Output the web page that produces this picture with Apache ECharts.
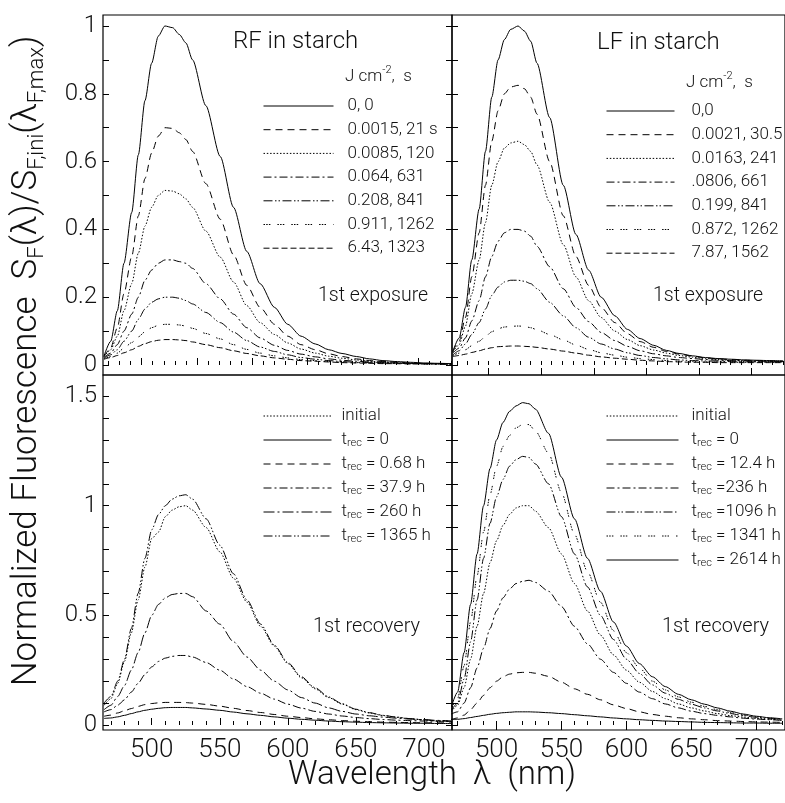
<!DOCTYPE html>
<html>
<head>
<meta charset="utf-8">
<script src="https://cdn.jsdelivr.net/npm/echarts@6.0.0/dist/echarts.min.js"></script>
<style>
html,body{margin:0;padding:0;background:#fff;}
#chart{width:785px;height:803px;}
</style>
</head>
<body>
<div id="chart"></div>
<script>
// ---------------- data ----------------
// wavelength grids (nm): exposure panels (top) and recovery panels (bottom)
const wavelengthTop = [466,472,478,484,491,497,503,509,515,521,528,534,540,546,558,571,583,595,607,620,632,644,657,669,681,694,706,718,731,743,755,767,780];
const wavelengthBottom = [465,470,475,480,485,490,495,500,505,510,515,520,525,530,540,550,560,570,580,590,600,610,620,630,640,650,660,670,680,690,700,710,720];

// RF in starch, 1st exposure
const rfExposureLabels = ['0, 0','0.0015, 21 s','0.0085, 120','0.064, 631','0.208, 841','0.911, 1262','6.43, 1323'];
const rfExp0 = [0.027,0.07,0.16,0.30,0.45,0.62,0.78,0.89,0.97,1.00,0.995,0.975,0.95,0.90,0.765,0.615,0.465,0.335,0.24,0.17,0.12,0.085,0.062,0.045,0.034,0.025,0.018,0.013,0.010,0.008,0.006,0.005,0.004];
const rfExp1 = [0.025,0.05,0.11,0.21,0.32,0.44,0.55,0.625,0.675,0.70,0.698,0.685,0.665,0.63,0.535,0.43,0.325,0.235,0.17,0.12,0.085,0.06,0.045,0.033,0.025,0.018,0.013,0.010,0.008,0.006,0.005,0.004,0.003];
const rfExp2 = [0.024,0.045,0.085,0.16,0.24,0.33,0.41,0.465,0.50,0.515,0.513,0.505,0.49,0.465,0.395,0.318,0.245,0.175,0.125,0.09,0.065,0.047,0.035,0.026,0.02,0.015,0.011,0.009,0.007,0.005,0.004,0.004,0.003];
const rfExp3 = [0.022,0.035,0.06,0.10,0.15,0.20,0.25,0.28,0.30,0.31,0.31,0.305,0.30,0.285,0.24,0.195,0.15,0.11,0.08,0.058,0.043,0.032,0.024,0.018,0.014,0.011,0.009,0.007,0.006,0.005,0.004,0.003,0.003];
const rfExp4 = [0.02,0.03,0.045,0.07,0.10,0.135,0.165,0.185,0.195,0.20,0.20,0.197,0.19,0.18,0.155,0.125,0.097,0.072,0.053,0.04,0.03,0.022,0.017,0.013,0.01,0.008,0.007,0.006,0.005,0.004,0.004,0.003,0.003];
const rfExp5 = [0.018,0.025,0.035,0.05,0.066,0.083,0.098,0.11,0.117,0.12,0.12,0.118,0.115,0.108,0.093,0.077,0.06,0.046,0.035,0.027,0.021,0.016,0.013,0.01,0.008,0.007,0.006,0.005,0.004,0.004,0.003,0.003,0.003];
const rfExp6 = [0.017,0.022,0.028,0.036,0.045,0.055,0.063,0.069,0.073,0.075,0.075,0.074,0.072,0.068,0.06,0.051,0.042,0.034,0.027,0.021,0.017,0.013,0.011,0.009,0.007,0.006,0.005,0.004,0.004,0.003,0.003,0.003,0.002];

// LF in starch, 1st exposure
const lfExposureLabels = ['0,0','0.0021, 30.5','0.0163, 241','.0806, 661','0.199, 841','0.872, 1262','7.87, 1562'];
const lfExp0 = [0.04,0.08,0.17,0.31,0.46,0.63,0.79,0.90,0.96,0.99,1.00,0.985,0.955,0.89,0.73,0.53,0.385,0.28,0.20,0.145,0.105,0.078,0.058,0.043,0.034,0.027,0.022,0.019,0.017,0.015,0.014,0.013,0.012];
const lfExp1 = [0.04,0.07,0.14,0.26,0.39,0.53,0.66,0.75,0.80,0.82,0.825,0.815,0.79,0.74,0.60,0.44,0.32,0.235,0.17,0.125,0.092,0.069,0.052,0.04,0.032,0.026,0.021,0.018,0.016,0.014,0.013,0.012,0.011];
const lfExp2 = [0.038,0.06,0.115,0.21,0.31,0.42,0.53,0.60,0.64,0.655,0.66,0.65,0.63,0.59,0.48,0.355,0.26,0.19,0.14,0.10,0.075,0.057,0.044,0.035,0.028,0.023,0.019,0.016,0.014,0.013,0.012,0.011,0.011];
const lfExp3 = [0.035,0.05,0.08,0.13,0.19,0.26,0.32,0.365,0.39,0.40,0.40,0.395,0.38,0.35,0.29,0.225,0.17,0.128,0.096,0.072,0.055,0.042,0.033,0.027,0.022,0.019,0.016,0.014,0.013,0.012,0.011,0.011,0.01];
const lfExp4 = [0.03,0.042,0.062,0.09,0.125,0.165,0.205,0.23,0.245,0.25,0.25,0.247,0.24,0.225,0.185,0.145,0.11,0.082,0.062,0.047,0.036,0.028,0.022,0.018,0.015,0.013,0.012,0.011,0.01,0.01,0.009,0.009,0.009];
const lfExp5 = [0.028,0.035,0.045,0.057,0.07,0.084,0.098,0.107,0.112,0.114,0.115,0.114,0.11,0.104,0.09,0.074,0.059,0.046,0.036,0.029,0.023,0.019,0.016,0.013,0.011,0.01,0.009,0.009,0.008,0.008,0.008,0.008,0.008];
const lfExp6 = [0.025,0.028,0.032,0.037,0.042,0.047,0.051,0.054,0.055,0.056,0.056,0.055,0.054,0.052,0.047,0.041,0.035,0.029,0.024,0.02,0.017,0.014,0.012,0.01,0.009,0.008,0.008,0.007,0.007,0.007,0.007,0.007,0.007];

// RF in starch, 1st recovery
const rfRecoveryLabels = ['initial','t_rec = 0','t_rec = 0.68 h','t_rec = 37.9 h','t_rec = 260 h','t_rec = 1365 h'];
const rfRecInitial = [0.09,0.12,0.19,0.29,0.42,0.57,0.72,0.85,0.88,0.95,0.98,0.995,1.0,0.98,0.90,0.79,0.67,0.56,0.45,0.36,0.28,0.215,0.165,0.125,0.095,0.07,0.055,0.043,0.035,0.028,0.023,0.018,0.015];
const rfRec0 = [0.03,0.032,0.037,0.044,0.052,0.06,0.067,0.072,0.076,0.079,0.08,0.08,0.08,0.078,0.073,0.067,0.059,0.051,0.044,0.037,0.031,0.026,0.022,0.018,0.015,0.013,0.011,0.01,0.009,0.008,0.008,0.007,0.007];
const rfRec068 = [0.04,0.045,0.055,0.065,0.075,0.085,0.093,0.098,0.101,0.103,0.103,0.103,0.102,0.10,0.094,0.086,0.076,0.066,0.057,0.048,0.04,0.034,0.028,0.024,0.02,0.017,0.015,0.013,0.012,0.011,0.01,0.01,0.009];
const rfRec379 = [0.06,0.07,0.09,0.115,0.15,0.19,0.23,0.265,0.29,0.305,0.313,0.317,0.317,0.31,0.285,0.25,0.21,0.175,0.145,0.118,0.095,0.077,0.062,0.05,0.041,0.034,0.029,0.025,0.022,0.02,0.018,0.017,0.016];
const rfRec260 = [0.07,0.09,0.13,0.18,0.25,0.33,0.42,0.50,0.55,0.58,0.595,0.60,0.60,0.585,0.52,0.46,0.38,0.31,0.25,0.20,0.16,0.125,0.10,0.078,0.062,0.05,0.042,0.036,0.031,0.027,0.024,0.021,0.019];
const rfRec1365 = [0.10,0.13,0.20,0.30,0.44,0.60,0.76,0.89,0.96,1.0,1.03,1.045,1.05,1.03,0.94,0.82,0.69,0.57,0.46,0.365,0.285,0.22,0.17,0.128,0.097,0.072,0.056,0.044,0.036,0.029,0.024,0.019,0.016];

// LF in starch, 1st recovery
const lfRecoveryLabels = ['initial','t_rec = 0','t_rec = 12.4 h','t_rec =236 h','t_rec =1096 h','t_rec = 1341 h','t_rec = 2614 h'];
const lfRecInitial = [0.06,0.09,0.17,0.30,0.45,0.60,0.74,0.84,0.91,0.96,0.99,1.0,1.0,0.975,0.90,0.78,0.645,0.52,0.41,0.32,0.25,0.195,0.153,0.12,0.096,0.078,0.064,0.052,0.043,0.036,0.03,0.026,0.022];
const lfRec0 = [0.025,0.026,0.029,0.034,0.039,0.044,0.049,0.053,0.056,0.058,0.06,0.06,0.06,0.059,0.056,0.052,0.047,0.042,0.037,0.032,0.028,0.024,0.021,0.018,0.016,0.014,0.012,0.011,0.01,0.009,0.009,0.008,0.008];
const lfRec124 = [0.025,0.032,0.045,0.07,0.10,0.135,0.17,0.20,0.22,0.232,0.238,0.24,0.24,0.236,0.222,0.195,0.165,0.14,0.115,0.092,0.075,0.06,0.048,0.04,0.033,0.028,0.024,0.02,0.018,0.016,0.014,0.013,0.012];
const lfRec236 = [0.05,0.06,0.10,0.17,0.26,0.35,0.44,0.52,0.58,0.62,0.645,0.655,0.66,0.65,0.61,0.54,0.45,0.37,0.30,0.24,0.19,0.15,0.12,0.096,0.078,0.063,0.052,0.044,0.037,0.031,0.027,0.024,0.021];
const lfRec1096 = [0.065,0.10,0.21,0.38,0.57,0.76,0.92,1.04,1.12,1.18,1.21,1.225,1.22,1.19,1.10,0.95,0.78,0.63,0.50,0.39,0.30,0.235,0.183,0.145,0.117,0.095,0.078,0.064,0.052,0.043,0.035,0.029,0.025];
const lfRec1341 = [0.07,0.12,0.27,0.47,0.68,0.88,1.05,1.18,1.27,1.32,1.355,1.37,1.37,1.34,1.24,1.06,0.87,0.70,0.56,0.43,0.33,0.26,0.20,0.16,0.128,0.104,0.085,0.07,0.057,0.046,0.037,0.031,0.026];
const lfRec2614 = [0.08,0.15,0.33,0.55,0.78,1.0,1.17,1.30,1.38,1.43,1.455,1.47,1.465,1.44,1.33,1.13,0.94,0.76,0.61,0.47,0.36,0.28,0.22,0.175,0.14,0.115,0.095,0.078,0.063,0.05,0.04,0.033,0.028];

// tick labels
const xTickLabelsBottom = [500,550,600,650,700];
const xMajorTicksTop = [500,550,600,650,700,750];
const yTickLabelsTop = [0,0.2,0.4,0.6,0.8,1];
const yTickLabelsBottom = [0,0.5,1,1.5];

// ---------------- styling ----------------
const FONT = 'Roboto, "Liberation Sans", sans-serif';
const FW = 300;
const INK = '#111';
const DASH = {
  solid: 'solid',
  dashed: [7,5],
  dotted: [1.5,1.8],
  dashDot: [8,3,2,3],
  longDashDot: [11,3,2,3],
  dashDotDot: [9,2.5,1.5,2,1.5,2.5],
  dotGroups: [1.5,1.2,1.5,1.2,1.5,7],
  longDash: [6,3]
};
function range(a, b, s) { const r = []; for (let v = a; v <= b + 1e-9; v += s) r.push(Math.round(v * 1000) / 1000); return r; }

const grids = [
  {left:103, top:15, width:349, height:360},   // RF exposure
  {left:452, top:15, width:346, height:360},   // LF exposure
  {left:103, top:375, width:349, height:355},  // RF recovery
  {left:452, top:375, width:346, height:355}   // LF recovery
];
const xRanges = [[465.06,780.4],[465.2,781.7],[464.2,720.6],[465.7,722.1]];
const yRanges = [[-0.0295,1.0324],[-0.0295,1.0324],[-0.0228,1.596],[-0.0228,1.596]];

const xAxis = [], yAxis = [], xIdx = [], yIdx = [];
const tickStyle = {color:'#000', width:1};
grids.forEach((g, gi) => {
  const top = gi < 2;
  const [xmin, xmax] = xRanges[gi];
  const [ymin, ymax] = yRanges[gi];
  const minorX = top ? range(470, 780, 10) : range(470, 720, 10);
  const majorX = top ? xMajorTicksTop : xTickLabelsBottom;
  xIdx[gi] = xAxis.length;
  xAxis.push({gridIndex:gi, type:'value', min:xmin, max:xmax, position:'bottom',
    axisLine:{show:false}, splitLine:{show:false}, axisLabel:{show:false},
    axisTick:{show:true, inside:true, length:4, customValues:minorX, lineStyle:tickStyle}});
  xAxis.push({gridIndex:gi, type:'value', min:xmin, max:xmax, position:'bottom',
    axisLine:{show:false}, splitLine:{show:false},
    axisLabel:{show:!top, customValues:xTickLabelsBottom, margin:7, fontSize:26, color:INK, fontFamily:FONT, fontWeight:FW},
    axisTick:{show:true, inside:true, length:7, customValues:majorX, lineStyle:tickStyle}});
  const minorY = top ? range(0, 1, 0.1) : range(0, 1.5, 0.1);
  const majorY = top ? yTickLabelsTop : yTickLabelsBottom;
  const left = gi % 2 === 0;
  yIdx[gi] = yAxis.length;
  yAxis.push({gridIndex:gi, type:'value', min:ymin, max:ymax, position:'left',
    axisLine:{show:false}, splitLine:{show:false},
    axisLabel:{show:left, customValues:majorY, margin:6, fontSize:24, color:INK, fontFamily:FONT, fontWeight:FW,
      formatter: v => String(Math.round(v * 10) / 10)},
    axisTick:{show:true, inside:true, length:6, customValues:minorY, lineStyle:tickStyle}});
  if (left) {
    yAxis.push({gridIndex:gi, type:'value', min:ymin, max:ymax, position:'right',
      axisLine:{show:false}, splitLine:{show:false}, axisLabel:{show:false},
      axisTick:{show:true, inside:true, length:6, customValues:minorY, lineStyle:tickStyle}});
  }
});

function legendRich(label) {
  if (label.indexOf('t_rec') === 0) {
    return '{a|t}{s|rec}{a|' + label.slice(5) + '}';
  }
  return '{a|' + label + '}';
}

const panels = [
  {gi:0, key:'RFE', xs:wavelengthTop, labels:rfExposureLabels,
   data:[rfExp0,rfExp1,rfExp2,rfExp3,rfExp4,rfExp5,rfExp6],
   dash:[DASH.solid,DASH.dashed,DASH.dotted,DASH.dashDot,DASH.dashDotDot,DASH.dotGroups,DASH.longDash],
   legend:{left:263, top:97, itemWidth:70, gap:5.7, pad:9}},
  {gi:1, key:'LFE', xs:wavelengthTop, labels:lfExposureLabels,
   data:[lfExp0,lfExp1,lfExp2,lfExp3,lfExp4,lfExp5,lfExp6],
   dash:[DASH.solid,DASH.dashed,DASH.dotted,DASH.dashDot,DASH.dashDotDot,DASH.dotGroups,DASH.longDash],
   legend:{left:606, top:102, itemWidth:68, gap:5.7, pad:12}},
  {gi:2, key:'RFR', xs:wavelengthBottom, labels:rfRecoveryLabels,
   data:[rfRecInitial,rfRec0,rfRec068,rfRec379,rfRec260,rfRec1365],
   dash:[DASH.dotted,DASH.solid,DASH.dashed,DASH.dashDot,DASH.longDashDot,DASH.dashDotDot],
   legend:{left:263, top:407, itemWidth:68, gap:6, pad:5}},
  {gi:3, key:'LFR', xs:wavelengthBottom, labels:lfRecoveryLabels,
   data:[lfRecInitial,lfRec0,lfRec124,lfRec236,lfRec1096,lfRec1341,lfRec2614],
   dash:[DASH.dotted,DASH.solid,DASH.dashed,DASH.dashDot,DASH.dashDotDot,DASH.dotGroups,DASH.solid],
   legend:{left:606, top:407, itemWidth:72, gap:6, pad:8}}
];

const series = [], legends = [], labelMap = {};
panels.forEach(p => {
  const names = [];
  p.data.forEach((ys, i) => {
    const name = p.key + i;
    names.push(name);
    labelMap[name] = legendRich(p.labels[i]);
    series.push({
      type:'line', name, xAxisIndex:xIdx[p.gi], yAxisIndex:yIdx[p.gi],
      data: p.xs.map((x, k) => [x, ys[k]]),
      symbol:'none', showSymbol:false, smooth:0.25, smoothMonotone:'x', silent:true,
      lineStyle:{color:'#000', width:1, type:p.dash[i]},
      itemStyle:{color:'#000'}
    });
  });
  legends.push({
    data:names, orient:'vertical', left:p.legend.left, top:p.legend.top,
    itemWidth:p.legend.itemWidth, itemHeight:14, itemGap:p.legend.gap, padding:0,
    selectedMode:false,
    itemStyle:{opacity:0},
    lineStyle:{width:1},
    formatter: n => labelMap[n],
    textStyle:{fontSize:17, color:INK, fontFamily:FONT, fontWeight:FW, lineHeight:18, padding:[0,0,0,p.legend.pad],
      rich:{
        a:{fontSize:17, lineHeight:18, color:INK, fontFamily:FONT, fontWeight:FW},
        s:{fontSize:11, lineHeight:12, verticalAlign:'bottom', color:INK, fontFamily:FONT, fontWeight:FW}
      }}
  });
});

function txt(text, x, y, size, extra) {
  return Object.assign({type:'text', x, y, silent:true,
    style:{text, fill:INK, fontSize:size, fontFamily:FONT, fontWeight:FW, align:'left', verticalAlign:'middle'}}, extra || {});
}
function headerText(x, y) {
  return {type:'text', x, y, silent:true, style:{
    text:'{m|J cm}{p|-2}{m|,  s}', align:'left', verticalAlign:'middle',
    rich:{
      m:{fontSize:17, lineHeight:24, fill:INK, fontFamily:FONT, fontWeight:FW},
      p:{fontSize:11, lineHeight:12, verticalAlign:'top', fill:INK, fontFamily:FONT, fontWeight:FW}
    }}};
}

const graphic = [
  txt('RF in starch', 233, 42, 24),
  txt('LF in starch', 597, 43, 24),
  headerText(345, 77),
  headerText(686, 83),
  txt('1st exposure', 318, 296, 19.5),
  txt('1st exposure', 653, 296, 19.5),
  txt('1st recovery', 313, 627, 20),
  txt('1st recovery', 662, 627, 20),
  {type:'text', x:432, y:776, silent:true,
    style:{text:'Wavelength  λ  (nm)', fill:INK, fontSize:33, fontFamily:FONT, fontWeight:FW, align:'center', verticalAlign:'middle'}},
  {type:'text', x:27, y:361, rotation:Math.PI/2, silent:true,
    style:{text:'{m|Normalized Fluorescence  S}{s|F}{m|(λ)/S}{s|F,ini}{m|(λ}{s|F,max}{m|)}',
      align:'center', verticalAlign:'middle',
      rich:{
        m:{fontSize:35, lineHeight:42, fill:INK, fontFamily:FONT, fontWeight:FW},
        s:{fontSize:22, lineHeight:24, verticalAlign:'bottom', fill:INK, fontFamily:FONT, fontWeight:FW}
      }}}
];

const option = {
  animation:false,
  backgroundColor:'#fff',
  grid: grids.map(g => Object.assign({show:true, borderColor:'#000', borderWidth:1.2, backgroundColor:'transparent'}, g)),
  xAxis, yAxis, series, legend:legends, graphic
};

const chart = echarts.init(document.getElementById('chart'), null, {renderer:'canvas'});
chart.setOption(option);
</script>
</body>
</html>
